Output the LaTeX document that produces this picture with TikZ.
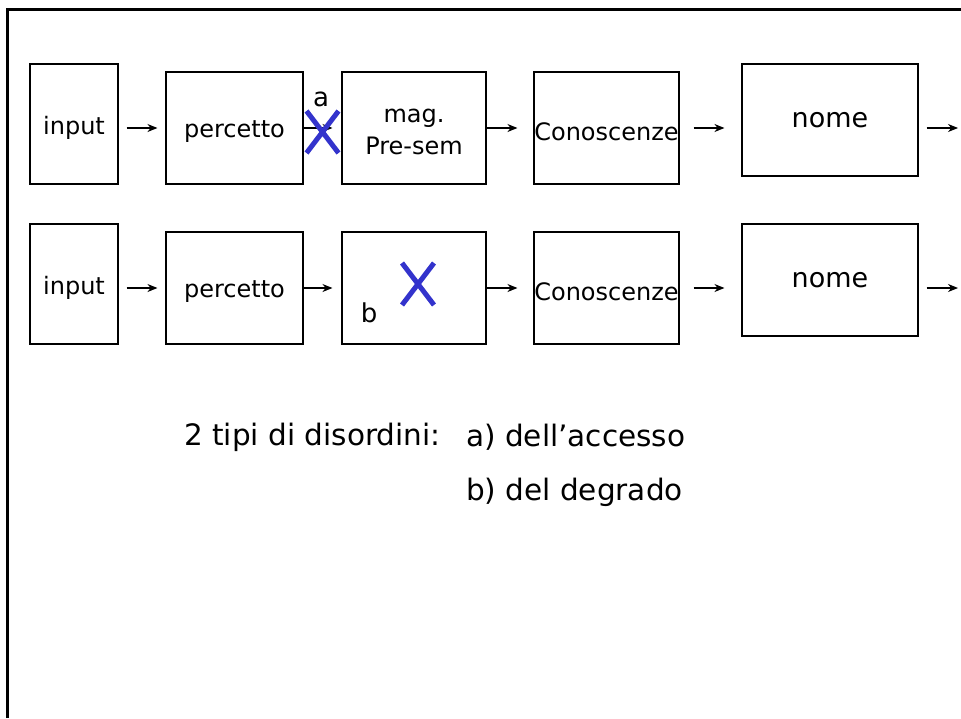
\documentclass[tikz,border=0pt]{standalone}
\usepackage{fontspec}
\setmainfont{DejaVu Sans}
\usetikzlibrary{arrows.meta,shapes.misc}
\definecolor{crossblue}{RGB}{51,51,204}
\newcommand{\lowered}[1]{\raisebox{-4pt}[\height][\depth]{#1}}
\tikzset{
  blk/.style={draw=black, line width=1.1pt, rectangle, inner sep=0pt,
    align=center, font=\fontsize{24}{32}\selectfont},
  bignome/.style={blk, font=\fontsize{27}{30}\selectfont},
  arr/.style={line width=1.1pt, -{Stealth[length=10pt,width=8pt]}},
  xmark/.style={cross out, draw=crossblue, line width=5pt, inner sep=0pt,
    minimum width=27pt, minimum height=37pt},
  lbl/.style={inner sep=0pt, font=\fontsize{26}{30}\selectfont},
  txt/.style={inner sep=0pt, anchor=west, font=\fontsize{29.5}{34}\selectfont}
}
\begin{document}
\begin{tikzpicture}[x=1pt,y=-1pt]
\useasboundingbox (0,0) rectangle (961,718);
% outer frame (top and left edges)
\draw[line width=3pt] (7,718) -- (7,9) -- (961,9);

% first row: access disorder
\node[blk, minimum width=88pt, minimum height=120pt] (in1) at (74,124) {\lowered{input}};
\node[blk, minimum width=137pt, minimum height=112pt] (pe1) at (234.5,128) {\lowered{percetto}};
\node[blk, minimum width=144pt, minimum height=112pt] (ms1) at (414,128) {\lowered{mag.}\\\lowered{Pre-sem}};
\node[blk, minimum width=145pt, minimum height=112pt] (co1) at (606.5,128) {\lowered{Conoscenze}};
\node[bignome, minimum width=176pt, minimum height=112pt] (no1) at (830,120) {nome};
\coordinate (out1) at (958,128);

\draw[arr, shorten <=8pt, shorten >=8pt] (in1.east |- pe1.west) -- (pe1.west);
\draw[arr, shorten >=9pt] (pe1.east) -- (ms1.west);
\draw[arr, shorten >=16pt] (ms1.east) -- (co1.west);
\draw[arr, shorten <=14pt, shorten >=17pt] (co1.east) -- (no1.west |- co1.east);
\draw[arr, shorten <=8pt] (no1.east |- out1) -- (out1);

\node[xmark] (xa) at (322.5,132) {};
\node[lbl] (la) at (321,99) {a};

% second row: degradation disorder
\node[blk, minimum width=88pt, minimum height=120pt] (in2) at (74,284) {\lowered{input}};
\node[blk, minimum width=137pt, minimum height=112pt] (pe2) at (234.5,288) {\lowered{percetto}};
\node[blk, minimum width=144pt, minimum height=112pt] (ms2) at (414,288) {};
\node[blk, minimum width=145pt, minimum height=112pt] (co2) at (606.5,288) {\lowered{Conoscenze}};
\node[bignome, minimum width=176pt, minimum height=112pt] (no2) at (830,280) {nome};
\coordinate (out2) at (958,288);

\draw[arr, shorten <=8pt, shorten >=8pt] (in2.east |- pe2.west) -- (pe2.west);
\draw[arr, shorten >=9pt] (pe2.east) -- (ms2.west);
\draw[arr, shorten >=16pt] (ms2.east) -- (co2.west);
\draw[arr, shorten <=14pt, shorten >=17pt] (co2.east) -- (no2.west |- co2.east);
\draw[arr, shorten <=8pt] (no2.east |- out2) -- (out2);

\node[xmark] (xb) at (418,284) {};
\node[lbl] (lb) at (369,313) {b};

% caption
\node[txt] (t0) at (184,437) {2 tipi di disordini:};
\node[txt] (t1) at (466,437) {a) dell’accesso};
\node[txt] (t2) at (466,492) {b) del degrado};
\end{tikzpicture}
\end{document}
